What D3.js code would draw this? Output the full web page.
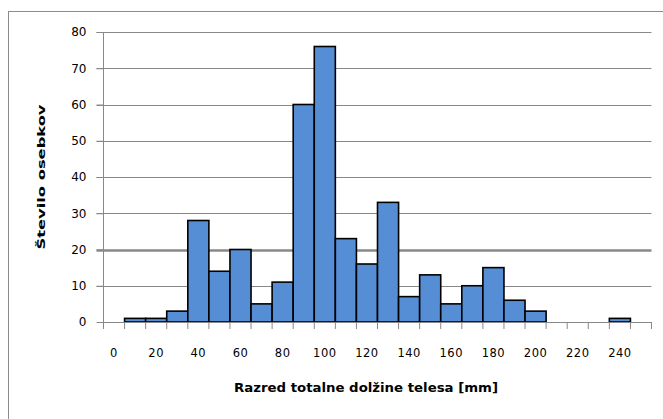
<!DOCTYPE html>
<html>
<head>
<meta charset="utf-8">
<script src="https://cdn.jsdelivr.net/npm/d3@7"></script>
<style>
  html, body { margin: 0; padding: 0; background: #fff; }
  svg { display: block; }
  text { font-family: "DejaVu Sans", Verdana, sans-serif; fill: #000; }
</style>
</head>
<body>
<svg id="chart" width="663" height="419"></svg>
<script>
// Length classes (mm) and number of specimens per class
const classes = [0, 10, 20, 30, 40, 50, 60, 70, 80, 90, 100, 110, 120,
                 130, 140, 150, 160, 170, 180, 190, 200, 210, 220, 230, 240, 250];
const counts  = [0, 1, 1, 3, 28, 14, 20, 5, 11, 60, 76, 23, 16,
                 33, 7, 13, 5, 10, 15, 6, 3, 0, 0, 0, 1, 0];
const xTickLabels = [0, 20, 40, 60, 80, 100, 120, 140, 160, 180, 200, 220, 240];
const yTicks = [0, 10, 20, 30, 40, 50, 60, 70, 80];
const xTitle = "Razred totalne dolžine telesa [mm]";
const yTitle = "Število osebkov";

const svg = d3.select("#chart");

// outer chart frame
svg.append("rect")
  .attr("x", 8.5).attr("y", 11.5)
  .attr("width", 700).attr("height", 500)
  .attr("fill", "none").attr("stroke", "#8c8c8c").attr("stroke-width", 1);

const plotLeft = 103.5, plotRight = 651.5, plotTop = 32, plotBottom = 322;

const x = d3.scaleBand().domain(classes).range([plotLeft, plotRight]).padding(0);
const y = d3.scaleLinear().domain([0, 80]).range([plotBottom, plotTop]);

// horizontal gridlines
svg.append("g").selectAll("line")
  .data(yTicks.filter(d => d > 0))
  .join("line")
  .attr("x1", plotLeft - 7).attr("x2", plotRight)
  .attr("y1", d => Math.round(y(d)) + 0.5).attr("y2", d => Math.round(y(d)) + 0.5)
  .attr("stroke", "#888")
  .attr("stroke-width", d => d === 20 ? 2.5 : 1);

// y axis
const yAxis = svg.append("g")
  .attr("transform", `translate(${plotLeft},0)`)
  .call(d3.axisLeft(y).tickValues(yTicks).tickSize(7).tickPadding(10).tickFormat(d3.format("d")));
yAxis.select(".domain").attr("stroke", "#888").attr("d", `M0,${plotTop}V${plotBottom}`);
yAxis.selectAll(".tick line").attr("stroke", "#888");
yAxis.selectAll("text").attr("font-size", 12).attr("font-family", "DejaVu Sans").attr("fill", "#111");

// bars
svg.append("g").selectAll("rect")
  .data(classes.map((c, i) => ({ c, v: counts[i] })).filter(d => d.v > 0))
  .join("rect")
  .attr("x", d => x(d.c))
  .attr("y", d => y(d.v))
  .attr("width", x.bandwidth())
  .attr("height", d => y(0) - y(d.v))
  .attr("fill", "#558ed5")
  .attr("stroke", "#000")
  .attr("stroke-width", 1.6);

// x axis with ticks on class boundaries
const xAxisG = svg.append("g").attr("transform", `translate(0,${plotBottom})`);
xAxisG.append("line")
  .attr("x1", plotLeft).attr("x2", plotRight).attr("y1", 0.5).attr("y2", 0.5)
  .attr("stroke", "#888");
xAxisG.selectAll("line.tk")
  .data(d3.range(classes.length + 1))
  .join("line").attr("class", "tk")
  .attr("x1", i => plotLeft + i * x.bandwidth()).attr("x2", i => plotLeft + i * x.bandwidth())
  .attr("y1", 0).attr("y2", 7)
  .attr("stroke", "#888");
xAxisG.selectAll("text")
  .data(xTickLabels)
  .join("text")
  .attr("x", d => x(d) + x.bandwidth() / 2)
  .attr("y", 35)
  .attr("text-anchor", "middle")
  .attr("font-size", 11.5)
  .attr("letter-spacing", 0.5)
  .attr("fill", "#111")
  .text(d => d);

// axis titles
svg.append("text")
  .attr("x", 366).attr("y", 392)
  .attr("text-anchor", "middle")
  .attr("font-size", 12).attr("font-weight", "bold")
  .attr("textLength", 264).attr("lengthAdjust", "spacingAndGlyphs")
  .text(xTitle);

svg.append("text")
  .attr("transform", "translate(45,177) rotate(-90)")
  .attr("text-anchor", "middle")
  .attr("font-size", 11).attr("font-weight", "bold")
  .attr("textLength", 145).attr("lengthAdjust", "spacingAndGlyphs")
  .text(yTitle);
</script>
</body>
</html>
